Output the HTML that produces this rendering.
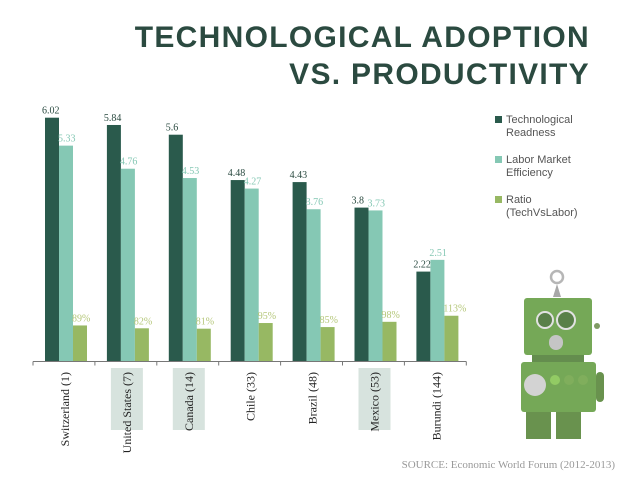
<!DOCTYPE html>
<html><head><meta charset="utf-8"><style>
body{margin:0;background:#fff;}
svg{display:block;font-family:"Liberation Serif",serif;}
.t{font-family:"Liberation Sans",sans-serif;font-weight:bold;fill:#2b4a40;font-size:30px;letter-spacing:1.3px;}
</style></head><body>
<svg id="c" width="638" height="480" viewBox="0 0 638 480">
<text class="t" x="590" y="47" text-anchor="end">TECHNOLOGICAL ADOPTION</text>
<text class="t" x="590" y="84" text-anchor="end">VS. PRODUCTIVITY</text>
<g id="hl"></g>
<g id="bars"></g>
<g id="axis"></g>
<g font-family="Liberation Sans, sans-serif" font-size="11" fill="#555">
<rect x="495" y="116" width="7" height="7" fill="#2a5a4c"/>
<text x="506" y="123"><tspan x="506">Technological</tspan><tspan x="506" dy="13">Readness</tspan></text>
<rect x="495" y="156" width="7" height="7" fill="#85c8b4"/>
<text x="506" y="163"><tspan x="506">Labor Market</tspan><tspan x="506" dy="13">Efficiency</tspan></text>
<rect x="495" y="196" width="7" height="7" fill="#97b863"/>
<text x="506" y="203"><tspan x="506">Ratio</tspan><tspan x="506" dy="13">(TechVsLabor)</tspan></text>
</g>
<g opacity="0.85">
<circle cx="557" cy="277" r="6" fill="none" stroke="#aaa" stroke-width="2.5"/>
<path d="M553 297 L557 284 L561 297Z" fill="#999"/>
<rect x="524" y="298" width="68" height="57" rx="3" fill="#5e9a3a"/>
<circle cx="545" cy="320" r="8" fill="#3d6a2a" stroke="#ddd" stroke-width="2"/>
<circle cx="566" cy="320" r="9" fill="#3d6a2a" stroke="#ddd" stroke-width="2"/>
<rect x="549" y="335" width="14" height="15" rx="7" fill="#bbb"/>
<circle cx="597" cy="326" r="3" fill="#6a8a4a"/>
<rect x="532" y="355" width="52" height="8" fill="#4a7a30"/>
<rect x="521" y="362" width="75" height="50" rx="3" fill="#5e9a3a"/>
<circle cx="535" cy="385" r="11" fill="#ccc"/>
<circle cx="555" cy="380" r="5" fill="#7fc24a"/><circle cx="569" cy="380" r="5" fill="#6aa040"/><circle cx="583" cy="380" r="5" fill="#6aa040"/>
<rect x="596" y="372" width="8" height="30" rx="4" fill="#4f8030"/>
<rect x="526" y="412" width="25" height="27" fill="#4f8030"/>
<rect x="556" y="412" width="25" height="27" fill="#4f8030"/>
</g>
<text x="615" y="468" text-anchor="end" font-size="11" fill="#999">SOURCE: Economic World Forum (2012-2013)</text>
</svg>
<script>
const categories=["Switzerland (1)","United States (7)","Canada (14)","Chile (33)","Brazil (48)","Mexico (53)","Burundi (144)"];
const techValues=[6.02,5.84,5.6,4.48,4.43,3.8,2.22];
const laborValues=[5.33,4.76,4.53,4.27,3.76,3.73,2.51];
const ratioValues=[0.89,0.82,0.81,0.95,0.85,0.98,1.13];
const ratioLabels=["89%","82%","81%","95%","85%","98%","113%"];
const highlighted=[false,true,true,false,false,true,false];
const NS="http://www.w3.org/2000/svg";
const base=361.5,ppu=40.5,x0=33,step=61.9,bw=14;
function y(v){return base-v*ppu;}
function gx(i){return x0+step*i+12;}
function el(t,a,p){const e=document.createElementNS(NS,t);for(const k in a)e.setAttribute(k,a[k]);p.appendChild(e);return e;}
const bars=document.getElementById('bars'),axis=document.getElementById('axis'),hl=document.getElementById('hl');
const series=[[techValues,"#2a5a4c","#2a4a40",null],[laborValues,"#85c8b4","#85c8b4",null],[ratioValues,"#97b863","#b5c77a",ratioLabels]];
categories.forEach((c,i)=>{
  if(highlighted[i]){const r=el('rect',{x:gx(i)+4,y:368,width:32,height:62,fill:'#d7e3de'},hl);
    
    }
  series.forEach((s,j)=>{
    const v=s[0][i];const bx=gx(i)+j*bw;
    const r=el('rect',{x:bx,y:y(v),width:bw,height:v*ppu,fill:s[1]},bars);
    
    
    const t=el('text',{x:bx+(j==0?-3:-1),y:y(v)-4,'font-size':'10',fill:s[2]},bars);
    t.textContent=s[3]?s[3][i]:String(v);
    
    
  });
  const lx=gx(i)+24;
  const t=el('text',{x:lx,y:372,transform:`rotate(-90 ${lx} 372)`,'text-anchor':'end','font-size':'12',fill:'#222'},axis);
  t.textContent=c;
  
  
});
const ax=el('line',{x1:x0,x2:x0+step*7,y1:base,y2:base,stroke:'#777','stroke-width':1},axis);


for(let i=0;i<=7;i++){const tk=el('line',{x1:x0+step*i,x2:x0+step*i,y1:base,y2:base+4,stroke:'#777'},axis);
  
  }
</script>
</body></html>
